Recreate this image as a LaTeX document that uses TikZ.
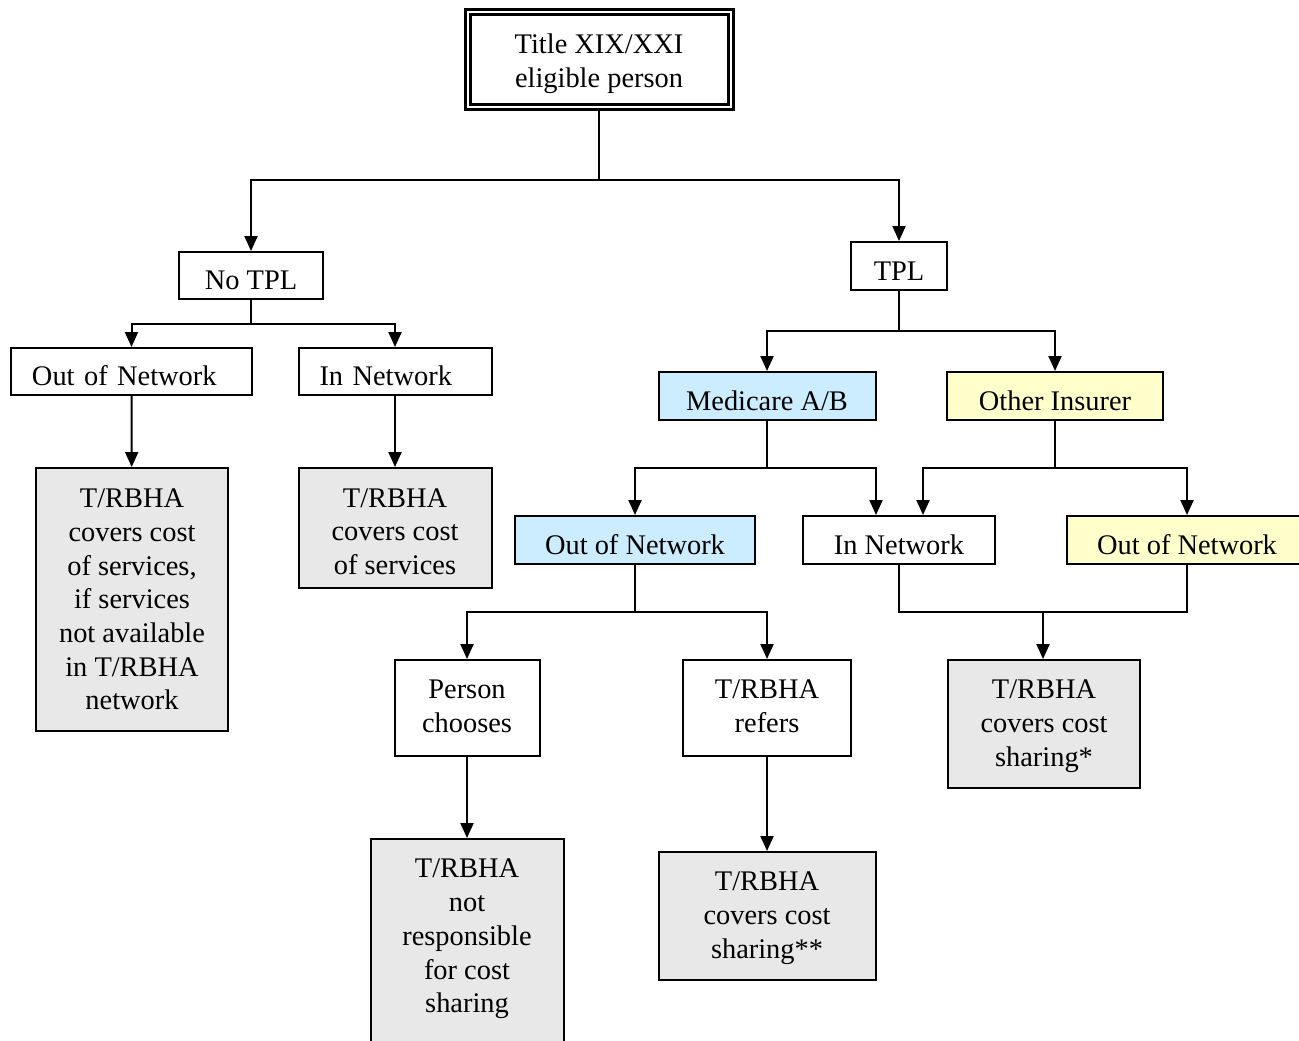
\documentclass[tikz,border=0pt]{standalone}
\usepackage{fontspec}
\setmainfont{Liberation Serif}
\usetikzlibrary{arrows.meta}
\definecolor{medblue}{HTML}{CCECFF}
\definecolor{othyellow}{HTML}{FFFFCC}
\definecolor{boxgray}{HTML}{E8E8E8}
\newcommand{\topgap}[1]{\rule{0pt}{#1}}
\newcommand{\botgap}[1]{\rule[-#1]{0pt}{0pt}}
\tikzset{
  box/.style={draw, line width=1pt, inner sep=0pt, align=center,
    font=\fontsize{14.2pt}{16.85pt}\selectfont},
  oneline/.style={box, text height=14pt, text depth=0pt},
  leftbox/.style={oneline, align=left, inner xsep=10.5pt},
  graybox/.style={box, fill=boxgray},
  link/.style={line width=1pt},
  arr/.style={link, -{Triangle[width=6.5pt,length=7.5pt]}}
}
\begin{document}
\begin{tikzpicture}[x=0.5pt,y=-0.5pt]
\useasboundingbox (0,0) rectangle (1299,1040);
\node[box, double, line width=1.5pt, double distance=1pt, minimum width=131.5pt, minimum height=47.5pt] (title) at (599,59.5) {\topgap{14pt}Title XIX/XXI\\eligible person};
\node[oneline, minimum width=72pt, minimum height=23.5pt] (notpl) at (251,275.5) {No TPL};
\node[oneline, minimum width=48pt, minimum height=24pt] (tpl) at (899,266) {TPL};
\node[leftbox, text width=99.5pt, minimum height=23.5pt] (oonleft) at (131.5,371.5) {Out of Network};
\node[leftbox, text width=75.5pt, minimum height=23.5pt] (inleft) at (395,371.5) {In Network};
\node[graybox, minimum width=96pt, minimum height=131.5pt] (covserv) at (132,599.5) {T/RBHA\\covers cost\\of services,\\if services\\not available\\in T/RBHA\\network};
\node[graybox, minimum width=96.5pt, minimum height=60pt] (covin) at (395,528) {\topgap{13pt}T/RBHA\\covers cost\\of services};
\node[oneline, fill=medblue, minimum width=108.5pt, minimum height=24pt] (medicare) at (767,396) {Medicare A/B};
\node[oneline, fill=othyellow, minimum width=108pt, minimum height=24pt] (other) at (1055,396) {Other Insurer};
\node[oneline, fill=medblue, minimum width=120pt, minimum height=24pt] (oonmed) at (635,540) {Out of Network};
\node[oneline, minimum width=96pt, minimum height=24pt] (inright) at (899,540) {In Network};
\node[oneline, fill=othyellow, minimum width=120pt, minimum height=24pt] (oonoth) at (1187,540) {Out of Network};
\node[box, minimum width=72.5pt, minimum height=48pt] (chooses) at (467,708) {Person\\chooses\botgap{2pt}};
\node[box, minimum width=84pt, minimum height=48pt] (refers) at (767,708) {T/RBHA\\refers\botgap{2pt}};
\node[graybox, minimum width=96pt, minimum height=64pt] (costshare) at (1044,724) {\topgap{11.5pt}T/RBHA\\covers cost\\sharing*};
\node[graybox, minimum width=96.5pt, minimum height=103pt] (notresp) at (467,942) {T/RBHA\\not\\responsible\\for cost\\sharing\botgap{6pt}};
\node[graybox, minimum width=108.5pt, minimum height=64pt] (costshare2) at (767,916) {\topgap{11.5pt}T/RBHA\\covers cost\\sharing**};

\coordinate (topsplit) at (599,180);
\coordinate (notplsplit) at (251,324);
\coordinate (tplsplit) at (899,331);
\coordinate (medsplit) at (767,468);
\coordinate (othsplit) at (1055,468);
\coordinate (oonsplit) at (635,612);
\coordinate (joinright) at (1043,612);

\draw[link] (title) -- (topsplit);
\draw[arr] (topsplit) -| (notpl);
\draw[arr] (topsplit) -| (tpl);
\draw[link] (notpl) -- (notplsplit);
\draw[arr] (notplsplit) -| (oonleft);
\draw[arr] (notplsplit) -| (inleft);
\draw[arr] (oonleft) -- (covserv);
\draw[arr] (inleft) -- (covin);
\draw[link] (tpl) -- (tplsplit);
\draw[arr] (tplsplit) -| (medicare);
\draw[arr] (tplsplit) -| (other);
\draw[link] (medicare) -- (medsplit);
\draw[arr] (medsplit) -| ([xshift=-11.5pt]inright.north);
\draw[arr] (medsplit) -| (oonmed);
\draw[link] (other) -- (othsplit);
\draw[arr] (othsplit) -| ([xshift=12pt]inright.north);
\draw[arr] (othsplit) -| (oonoth);
\draw[link] (oonmed) -- (oonsplit);
\draw[arr] (oonsplit) -| (chooses);
\draw[arr] (oonsplit) -| (refers);
\draw[link] (inright.south) |- (joinright) -| (oonoth.south);
\draw[arr] (joinright) -- (joinright |- costshare.north);
\draw[arr] (chooses) -- (notresp);
\draw[arr] (refers) -- (costshare2);
\end{tikzpicture}
\end{document}
